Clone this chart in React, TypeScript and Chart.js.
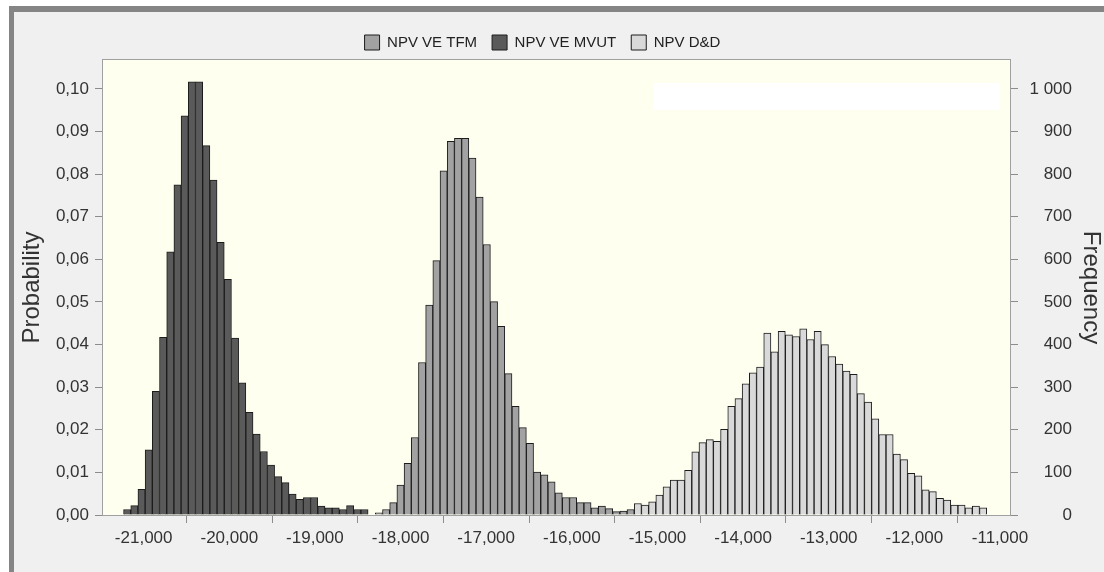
import React, { useEffect, useRef } from "react";
import { Chart, registerables } from "chart.js";

Chart.register(...registerables);

// Histogram bin grid (common to all three series)
const binStart = -21235;
const binWidth = 84;

// Probability per bin
const mvutStartBin = 0;
const mvutValues = [
  0.0013, 0.0022, 0.006, 0.0153, 0.029, 0.0417, 0.0618, 0.0775, 0.0937, 0.1017,
  0.1017, 0.0867, 0.0786, 0.064, 0.0553, 0.0415, 0.031, 0.0241, 0.019, 0.0149,
  0.0117, 0.009, 0.0076, 0.0049, 0.0037, 0.0041, 0.0041, 0.0021, 0.0017, 0.0017,
  0.0013, 0.0022, 0.0013, 0.0013,
];

const tfmStartBin = 35;
const tfmValues = [
  0.0005, 0.0013, 0.0029, 0.007, 0.0121, 0.0182, 0.0358, 0.0493, 0.0597, 0.0808,
  0.0877, 0.0884, 0.0884, 0.0838, 0.0746, 0.0635, 0.0501, 0.0443, 0.0332, 0.0255,
  0.0205, 0.0168, 0.0101, 0.0094, 0.0078, 0.0052, 0.0041, 0.0041, 0.0029, 0.0029,
  0.0017, 0.0021, 0.0015, 0.0008, 0.0009, 0.0013,
];

const ddStartBin = 71;
const ddValues = [
  0.0027, 0.0023, 0.0031, 0.0047, 0.0066, 0.0082, 0.0082, 0.0105, 0.0148, 0.017,
  0.0177, 0.0173, 0.0201, 0.0255, 0.0273, 0.0308, 0.0334, 0.0347, 0.0427, 0.0383,
  0.0431, 0.0423, 0.0419, 0.0437, 0.0412, 0.0431, 0.04, 0.0372, 0.0354, 0.0338,
  0.033, 0.0285, 0.0265, 0.0226, 0.0189, 0.0189, 0.0143, 0.013, 0.0098, 0.0092,
  0.0059, 0.0055, 0.0039, 0.0035, 0.0023, 0.0023, 0.0017, 0.0021, 0.0017,
];

const seriesLabels = ["NPV VE TFM", "NPV VE MVUT", "NPV D&D"];

// Axes
const xMin = -21475;
const xMax = -10883;
const xTicks = [-21000, -20000, -19000, -18000, -17000, -16000, -15000, -14000, -13000, -12000, -11000];
const probMax = 0.1068;
const probTicks = [0, 0.01, 0.02, 0.03, 0.04, 0.05, 0.06, 0.07, 0.08, 0.09, 0.1];
const freqMax = 1068;
const freqTicks = [0, 100, 200, 300, 400, 500, 600, 700, 800, 900, 1000];

const FONT = "'Liberation Sans', Arial, sans-serif";

function toPoints(start: number, values: number[]) {
  return values.map((v, i) => ({ x: binStart + binWidth * (start + i + 0.5), y: v }));
}

const fmtX = (v: number) => {
  const s = Math.abs(v).toString().replace(/\B(?=(\d{3})+(?!\d))/g, ",");
  return (v < 0 ? "-" : "") + s;
};
const fmtProb = (v: number) => v.toFixed(2).replace(".", ",");
const fmtFreq = (v: number) => String(v).replace(/\B(?=(\d{3})+(?!\d))/g, " ");

const backgroundPlugin = {
  id: "bgPlugin",
  beforeDraw(chart: any) {
    const { ctx, width, height, chartArea } = chart;
    ctx.save();
    ctx.fillStyle = "#ffffff";
    ctx.fillRect(0, 0, width, height);
    ctx.fillStyle = "#f0f0f0";
    ctx.fillRect(9, 6, width - 9, height - 6);
    ctx.fillStyle = "#858585";
    ctx.fillRect(9, 6, width - 9, 6);
    ctx.fillRect(9, 6, 5, height - 6);
    ctx.fillStyle = "#fffff0";
    ctx.fillRect(chartArea.left, chartArea.top, chartArea.right - chartArea.left, chartArea.bottom - chartArea.top);
    ctx.fillStyle = "#ffffff";
    ctx.fillRect(654, 83, 346, 27);
    ctx.restore();
  },
  beforeDatasetsDraw(chart: any) {
    const { ctx, chartArea } = chart;
    ctx.save();
    ctx.strokeStyle = "#a0a0a0";
    ctx.lineWidth = 1;
    ctx.strokeRect(chartArea.left - 0.5, chartArea.top - 0.5, chartArea.right - chartArea.left + 1, chartArea.bottom - chartArea.top + 1);
    ctx.restore();
  },
};

export default function App() {
  const ref = useRef<HTMLCanvasElement>(null);

  useEffect(() => {
    if (!ref.current) return;
    const common = {
      borderColor: "#1c1c1c",
      borderWidth: 1,
      barPercentage: 1,
      categoryPercentage: 1,
      grouped: false,
    };
    const tickGrid = {
      display: true,
      drawOnChartArea: false,
      drawTicks: true,
      tickLength: 8,
      color: "#8c8c8c",
    };
    const chart = new Chart(ref.current, {
      type: "bar",
      data: {
        datasets: [
          { ...common, label: seriesLabels[0], data: toPoints(tfmStartBin, tfmValues), backgroundColor: "#a2a2a2" },
          { ...common, label: seriesLabels[1], data: toPoints(mvutStartBin, mvutValues), backgroundColor: "#5a5a5a" },
          { ...common, label: seriesLabels[2], data: toPoints(ddStartBin, ddValues), backgroundColor: "#d9d9d9" },
        ] as any,
      },
      options: {
        animation: false,
        responsive: false,
        devicePixelRatio: 1,
        layout: { padding: { top: 20, left: 13, right: 32, bottom: 0 } },
        plugins: {
          legend: {
            position: "top",
            labels: {
              boxWidth: 15,
              boxHeight: 15,
              padding: 15,
              color: "#222",
              font: { family: FONT, size: 15 },
            },
          },
          tooltip: { enabled: false },
        },
        scales: {
          x: {
            type: "linear",
            position: "bottom",
            min: xMin,
            max: xMax,
            offset: false,
            grid: tickGrid,
            border: { display: false },
            afterBuildTicks: (s: any) => {
              s.ticks = xTicks.map((v) => ({ value: v }));
            },
            afterFit: (s: any) => {
              s.height = 57;
            },
            ticks: {
              autoSkip: false,
              maxRotation: 0,
              padding: 5,
              color: "#333",
              font: { family: FONT, size: 17 },
              callback: (v: any) => fmtX(Number(v)),
            },
          },
          y: {
            type: "linear",
            position: "left",
            min: 0,
            max: probMax,
            grid: tickGrid,
            border: { display: false },
            afterBuildTicks: (s: any) => {
              s.ticks = probTicks.map((v) => ({ value: v }));
            },
            afterFit: (s: any) => {
              s.width = 90;
            },
            title: {
              display: true,
              text: "Probability",
              color: "#333",
              padding: { top: 5, bottom: 0 },
              font: { family: FONT, size: 24 },
            },
            ticks: {
              padding: 6,
              color: "#333",
              font: { family: FONT, size: 17 },
              callback: (v: any) => fmtProb(Number(v)),
            },
          },
          y1: {
            type: "linear",
            position: "right",
            min: 0,
            max: freqMax,
            grid: tickGrid,
            border: { display: false },
            afterBuildTicks: (s: any) => {
              s.ticks = freqTicks.map((v) => ({ value: v }));
            },
            afterFit: (s: any) => {
              s.width = 62;
            },
            title: {
              display: true,
              text: "Frequency",
              color: "#333",
              padding: { top: -33, bottom: 0 },
              font: { family: FONT, size: 24 },
            },
            ticks: {
              padding: 12,
              crossAlign: "far",
              color: "#333",
              font: { family: FONT, size: 17 },
              callback: (v: any) => fmtFreq(Number(v)),
            },
          },
        },
      } as any,
      plugins: [backgroundPlugin],
    });
    return () => chart.destroy();
  }, []);

  return (
    <div style={{ position: "absolute", left: 0, top: 0, width: 1104, height: 572 }}>
      <canvas ref={ref} width={1104} height={572} style={{ display: "block" }} />
    </div>
  );
}
